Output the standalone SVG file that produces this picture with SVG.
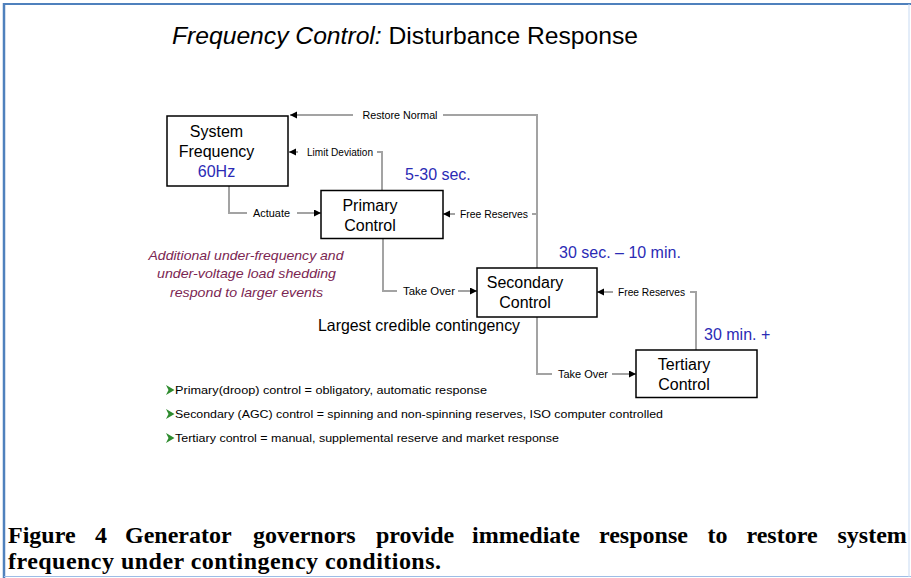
<svg xmlns="http://www.w3.org/2000/svg" width="911" height="578" viewBox="0 0 911 578">
<style>
  .sans{font-family:"Liberation Sans",Arial,sans-serif}
  .box{fill:#fff;stroke:#000;stroke-width:1.5}
  .bt{font-family:"Liberation Sans",Arial,sans-serif;font-size:16px;fill:#000;text-anchor:middle}
  .blue{font-family:"Liberation Sans",Arial,sans-serif;font-size:16px;fill:#2b2bb5}
  .conn{fill:none;stroke:#a3a3a3;stroke-width:2}
  .lbl{font-family:"Liberation Sans",Arial,sans-serif;font-size:10px;fill:#000;text-anchor:middle}
  .bul{font-family:"Liberation Sans",Arial,sans-serif;font-size:11.5px;fill:#000}
  .note{font-family:"Liberation Sans",Arial,sans-serif;font-size:13px;font-style:italic;fill:#7b2652;text-anchor:middle}
  .cap{font-family:"Liberation Serif","Times New Roman",serif;font-size:24px;font-weight:bold;fill:#000}
</style>
<defs>
  <marker id="ah" markerUnits="userSpaceOnUse" markerWidth="8" markerHeight="8" refX="7" refY="3.5" orient="auto">
    <path d="M0,0 L7,3.5 L0,7 z" fill="#000"/>
  </marker>
</defs>
<rect x="0" y="0" width="911" height="578" fill="#fff"/>
<g id="frame">
  <line x1="3" y1="4" x2="911" y2="4" stroke="#4f81bd" stroke-width="2"/>
  <line x1="4" y1="3" x2="4" y2="578" stroke="#4f81bd" stroke-width="2.5"/>
  <line x1="4" y1="576.5" x2="911" y2="576.5" stroke="#9dbde6" stroke-width="1.2"/>
  <line x1="909" y1="4" x2="909" y2="577" stroke="#c7daf2" stroke-width="1"/>
</g>

<text id="title" class="sans" x="172" y="44" font-size="24.5" fill="#000" textLength="466" lengthAdjust="spacingAndGlyphs"><tspan font-style="italic">Frequency Control:</tspan> Disturbance Response</text>

<g id="connectors">
  <path class="conn" d="M537,268 V115 H443"/>
  <path class="conn" d="M353,115 H290" marker-end="url(#ah)"/>
  <path class="conn" d="M382,190 V152 H377"/>
  <path class="conn" d="M298,152 H289" marker-end="url(#ah)"/>
  <path class="conn" d="M229,186 V213 H247"/>
  <path class="conn" d="M297,213 H321" marker-end="url(#ah)"/>
  <path class="conn" d="M537,214 H532"/>
  <path class="conn" d="M455,214 H443" marker-end="url(#ah)"/>
  <path class="conn" d="M383,238 V291 H397"/>
  <path class="conn" d="M458,291 H477" marker-end="url(#ah)"/>
  <path class="conn" d="M696,350 V292 H690"/>
  <path class="conn" d="M613,292 H597" marker-end="url(#ah)"/>
  <path class="conn" d="M537,317 V374 H552"/>
  <path class="conn" d="M612,374 H636" marker-end="url(#ah)"/>
  <text class="lbl" x="400" y="118.5" textLength="75" lengthAdjust="spacingAndGlyphs">Restore Normal</text>
  <text class="lbl" x="340" y="155.5" textLength="66" lengthAdjust="spacingAndGlyphs">Limit Deviation</text>
  <text class="lbl" x="271.5" y="216.5" textLength="37" lengthAdjust="spacingAndGlyphs">Actuate</text>
  <text class="lbl" x="494" y="217.5" textLength="68" lengthAdjust="spacingAndGlyphs">Free Reserves</text>
  <text class="lbl" x="429" y="294.5" textLength="52" lengthAdjust="spacingAndGlyphs">Take Over</text>
  <text class="lbl" x="651.5" y="295.5" textLength="67" lengthAdjust="spacingAndGlyphs">Free Reserves</text>
  <text class="lbl" x="583" y="377.5" textLength="50" lengthAdjust="spacingAndGlyphs">Take Over</text>
</g>

<g id="system-frequency">
  <rect class="box" x="167" y="116" width="121" height="70"/>
  <text class="bt" x="216.5" y="137">System</text>
  <text class="bt" x="216.5" y="157">Frequency</text>
  <text class="bt" x="216.5" y="177" style="fill:#2b2bb5">60Hz</text>
</g>
<g id="primary-control">
  <rect class="box" x="321" y="190.5" width="122" height="48"/>
  <text class="bt" x="370" y="211">Primary</text>
  <text class="bt" x="370" y="231">Control</text>
</g>
<g id="secondary-control">
  <rect class="box" x="477" y="268" width="120" height="49"/>
  <text class="bt" x="525" y="288">Secondary</text>
  <text class="bt" x="525" y="308">Control</text>
</g>
<g id="tertiary-control">
  <rect class="box" x="636" y="350" width="121" height="47.5"/>
  <text class="bt" x="684" y="370">Tertiary</text>
  <text class="bt" x="684" y="390">Control</text>
</g>

<text class="blue" x="405" y="180">5-30 sec.</text>
<text class="blue" x="559" y="258">30 sec. – 10 min.</text>
<text class="blue" x="704" y="340">30 min. +</text>

<g id="note">
  <text class="note" x="246" y="260" textLength="195" lengthAdjust="spacingAndGlyphs">Additional under-frequency and</text>
  <text class="note" x="246.5" y="278" textLength="179" lengthAdjust="spacingAndGlyphs">under-voltage load shedding</text>
  <text class="note" x="246.5" y="297" textLength="153" lengthAdjust="spacingAndGlyphs">respond to larger events</text>
</g>

<text class="sans" x="318" y="331" font-size="16.5" fill="#000" textLength="202" lengthAdjust="spacingAndGlyphs">Largest credible contingency</text>

<g id="bullets">
  <polygon points="166,385 174.5,390 166,395 168.5,390" fill="#2e8b2e"/>
  <polygon points="166,409 174.5,414 166,419 168.5,414" fill="#2e8b2e"/>
  <polygon points="166,433 174.5,438 166,443 168.5,438" fill="#2e8b2e"/>
  <text class="bul" x="175" y="394" textLength="312" lengthAdjust="spacingAndGlyphs">Primary(droop) control = obligatory, automatic response</text>
  <text class="bul" x="175" y="418" textLength="488" lengthAdjust="spacingAndGlyphs">Secondary (AGC) control = spinning and non-spinning reserves, ISO computer controlled</text>
  <text class="bul" x="175" y="442" textLength="384" lengthAdjust="spacingAndGlyphs">Tertiary control = manual, supplemental reserve and market response</text>
</g>

<g id="caption">
  <text class="cap" y="543"><tspan x="8">Figure</tspan><tspan x="95">4</tspan><tspan x="125">Generator</tspan><tspan x="253">governors</tspan><tspan x="376">provide</tspan><tspan x="472">immediate</tspan><tspan x="599">response</tspan><tspan x="707.5">to</tspan><tspan x="746.5">restore</tspan><tspan x="837.5">system</tspan></text>
  <text class="cap" x="8" y="569" textLength="433" lengthAdjust="spacing">frequency under contingency conditions.</text>
</g>
</svg>
